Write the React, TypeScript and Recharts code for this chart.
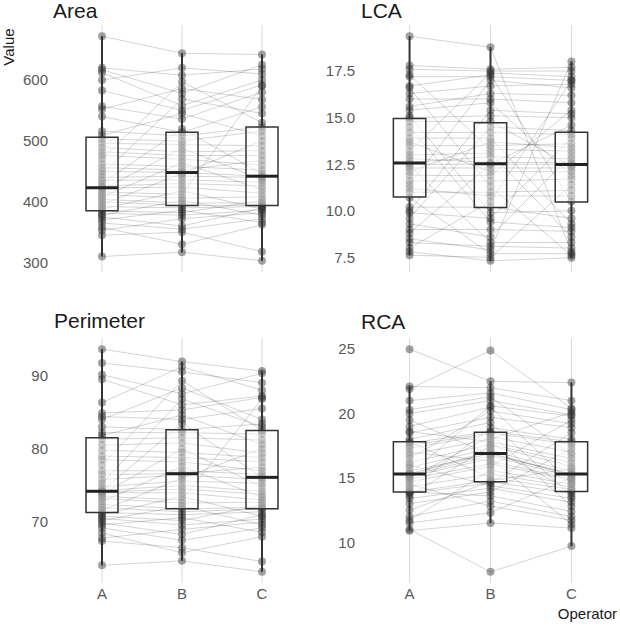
import React from 'react'
import { ComposedChart, Line, Scatter, XAxis, YAxis, ReferenceArea, ReferenceLine } from 'recharts'

const OPERATORS = ['A', 'B', 'C']

// Area, one value per subject and operator
const areaA = [310, 345, 353, 358, 365, 370, 375, 378, 381, 385, 388, 392, 396, 400, 404, 408, 412, 416, 420, 423, 426, 430, 435, 440, 445, 450, 456, 462, 470, 476, 482, 489, 496, 503, 509, 516, 540, 552, 557, 583, 600, 612, 617, 620, 672]
const areaB = [317, 350, 372, 330, 355, 386, 360, 402, 378, 382, 418, 390, 446, 394, 398, 464, 406, 412, 488, 424, 430, 520, 436, 442, 569, 448, 452, 458, 597, 470, 476, 482, 494, 500, 545, 508, 514, 586, 536, 550, 620, 558, 578, 608, 644]
const areaC = [303, 318, 382, 362, 372, 366, 390, 378, 386, 402, 388, 392, 500, 394, 398, 420, 408, 590, 436, 414, 426, 446, 432, 440, 545, 442, 468, 452, 530, 460, 476, 484, 492, 516, 508, 523, 556, 568, 580, 592, 610, 600, 625, 618, 642]
// [whisker low, q1, median, q3, whisker high] for A, B, C
const areaBox = [[310, 385, 423, 506, 672], [317, 394, 448, 514, 644], [303, 394, 442, 523, 642]]
const areaTicks = [300, 400, 500, 600]

// LCA
const lcaA = [7.62, 7.8, 8.0, 8.3, 8.5, 8.8, 9.0, 9.3, 9.6, 9.9, 10.0, 10.2, 10.7, 11.0, 11.2, 11.4, 11.6, 11.9, 12.1, 12.3, 12.4, 12.5, 12.6, 12.8, 13.0, 13.2, 13.5, 13.7, 13.9, 14.2, 14.5, 14.8, 15.0, 15.1, 15.4, 15.6, 16.0, 16.3, 16.6, 16.7, 17.2, 17.3, 17.6, 17.8, 19.37]
const lcaB = [7.5, 7.32, 10.5, 8.1, 7.9, 12.5, 9.0, 8.6, 14.5, 9.6, 15.4, 10.2, 7.7, 11.0, 10.8, 17.0, 11.6, 11.9, 13.7, 12.3, 8.3, 12.5, 12.9, 12.6, 13.1, 17.4, 13.5, 12.1, 13.9, 14.2, 9.4, 14.8, 15.1, 9.9, 15.8, 16.3, 16.0, 16.7, 11.3, 17.3, 17.2, 13.3, 17.5, 17.6, 18.78]
const lcaC = [11.4, 7.48, 17.0, 8.0, 18.02, 14.6, 8.9, 13.0, 14.3, 13.9, 15.2, 9.6, 7.7, 11.1, 10.8, 16.6, 11.7, 15.4, 13.4, 12.3, 8.3, 12.5, 12.8, 12.6, 8.6, 17.2, 13.6, 12.1, 9.3, 14.1, 9.1, 12.4, 15.0, 10.0, 11.9, 16.2, 15.8, 16.8, 7.6, 10.5, 17.0, 13.2, 17.5, 17.7, 7.8]
const lcaBox = [[7.62, 10.74, 12.57, 14.96, 19.37], [7.32, 10.18, 12.52, 14.73, 18.78], [7.48, 10.47, 12.48, 14.22, 18.02]]
const lcaTicks = [7.5, 10, 12.5, 15, 17.5]

// Perimeter
const perimA = [64.1, 67.4, 67.8, 68.5, 69.2, 69.6, 69.9, 70.2, 70.5, 70.8, 71.0, 71.3, 71.6, 72.0, 72.4, 72.8, 73.2, 73.5, 73.8, 74.0, 74.1, 74.2, 74.3, 74.8, 75.3, 75.8, 76.5, 77.0, 77.8, 78.5, 79.0, 79.8, 80.5, 81.3, 81.8, 82.2, 83.0, 84.0, 84.4, 84.9, 86.3, 89.5, 90.1, 91.7, 93.6]
const perimB = [64.7, 66.5, 69.0, 65.8, 67.5, 70.6, 68.3, 72.2, 69.6, 70.2, 73.5, 71.0, 76.0, 71.4, 71.8, 77.6, 72.6, 73.0, 80.0, 74.0, 74.5, 83.5, 75.0, 75.6, 86.8, 76.4, 76.6, 77.0, 89.3, 78.2, 78.8, 79.5, 80.8, 81.5, 84.6, 82.2, 82.6, 88.3, 84.0, 85.3, 91.2, 86.0, 87.5, 90.5, 91.9]
const perimC = [63.2, 64.6, 70.0, 68.0, 69.2, 68.6, 71.0, 69.6, 70.4, 72.3, 70.8, 71.4, 80.0, 71.8, 72.0, 73.4, 72.7, 86.8, 74.8, 73.0, 73.8, 76.1, 74.2, 75.3, 83.0, 75.8, 77.5, 76.5, 82.5, 77.0, 78.2, 78.8, 79.4, 81.2, 80.6, 82.0, 83.4, 84.0, 85.5, 87.0, 88.0, 87.2, 90.3, 89.0, 90.6]
const perimBox = [[64.1, 71.3, 74.2, 81.5, 93.6], [64.7, 71.8, 76.6, 82.6, 91.9], [63.2, 71.8, 76.1, 82.5, 90.6]]
const perimTicks = [70, 80, 90]

// RCA
const rcaA = [10.9, 11.0, 11.5, 11.7, 12.0, 12.5, 13.0, 13.4, 13.6, 13.8, 13.9, 13.9, 14.1, 14.3, 14.5, 14.7, 14.9, 15.0, 15.1, 15.2, 15.3, 15.3, 15.3, 15.5, 15.8, 16.0, 16.2, 16.5, 16.8, 17.0, 17.3, 17.5, 17.7, 17.8, 18.0, 18.5, 18.6, 19.0, 19.5, 20.0, 20.3, 21.0, 21.9, 22.1, 25.0]
const rcaB = [11.5, 7.7, 12.3, 15.6, 13.2, 14.7, 13.9, 14.2, 17.5, 14.6, 13.6, 14.8, 18.9, 15.3, 12.8, 15.9, 16.1, 18.2, 16.5, 16.7, 20.6, 16.9, 17.1, 16.9, 17.3, 14.4, 17.6, 20.2, 18.0, 16.3, 18.4, 18.5, 18.6, 15.0, 19.3, 19.7, 17.8, 20.5, 16.8, 21.0, 21.3, 21.6, 24.9, 22.0, 22.5]
const rcaC = [11.1, 9.7, 15.0, 14.5, 12.0, 13.8, 17.3, 13.1, 15.9, 18.5, 12.4, 15.7, 18.0, 14.3, 11.7, 19.5, 14.8, 17.0, 11.4, 15.1, 19.8, 15.2, 15.5, 15.3, 14.0, 13.4, 16.2, 19.2, 20.1, 14.9, 12.8, 17.6, 17.8, 14.1, 13.6, 18.9, 16.5, 14.6, 15.3, 19.9, 16.8, 20.3, 20.4, 21.0, 22.4]
const rcaBox = [[10.9, 13.9, 15.3, 17.8, 22.1], [11.5, 14.7, 16.9, 18.55, 22.5], [9.7, 13.95, 15.3, 17.8, 22.4]]
const rcaTicks = [10, 15, 20, 25]

const FONT = '"Liberation Sans", Arial, Helvetica, sans-serif'
const TICK = { fill: '#595959', fontSize: 15, fontFamily: FONT }

const Dot = (props: any) => <circle cx={props.cx} cy={props.cy} r={4} fill="#333" fillOpacity={0.45} />

interface PanelProps {
  a: number[]
  b: number[]
  c: number[]
  box: number[][]
  ticks: number[]
  decimals: number
  showX: boolean
  left: number
  top: number
  height: number
  yWidth: number
  marginTop: number
  marginBottom: number
}

function Panel({ a, b, c, box, ticks, decimals, showX, left, top, height, yWidth, marginTop, marginBottom }: PanelProps) {
  const all = [...a, ...b, ...c]
  const lo = Math.min(...all)
  const hi = Math.max(...all)
  const pad = (hi - lo) * 0.05
  const subjects = a.map((v, i) => [
    { x: 1, y: v },
    { x: 2, y: b[i] },
    { x: 3, y: c[i] },
  ])
  const points = subjects.flat()

  return (
    <div style={{ position: 'absolute', left, top }}>
      <ComposedChart width={310} height={height} margin={{ top: marginTop, right: 0, bottom: marginBottom, left: 0 }}>
        <XAxis
          type="number"
          dataKey="x"
          domain={[0.4, 3.6]}
          ticks={[1, 2, 3]}
          allowDataOverflow
          tickFormatter={(v) => OPERATORS[v - 1]}
          axisLine={false}
          tickLine={false}
          tick={showX ? TICK : false}
          tickSize={5}
          tickMargin={0}
          height={showX ? 20 : 0}
        />
        <YAxis
          type="number"
          dataKey="y"
          domain={[lo - pad, hi + pad]}
          allowDataOverflow
          ticks={ticks}
          tickFormatter={(v) => v.toFixed(decimals)}
          axisLine={false}
          tickLine={false}
          tick={TICK}
          tickSize={6}
          tickMargin={0}
          width={yWidth}
        />
        {OPERATORS.map((_, k) => (
          <ReferenceLine key={`g-${k}`} x={k + 1} stroke="#d9d9d9" strokeWidth={1} zIndex={-100} />
        ))}
        {subjects.map((s, i) => (
          <Line
            key={`s-${i}`}
            data={s}
            dataKey="y"
            stroke="#000"
            strokeOpacity={0.17}
            strokeWidth={1}
            dot={false}
            activeDot={false}
            isAnimationActive={false}
          />
        ))}
        <Scatter data={points} dataKey="y" shape={Dot} isAnimationActive={false} />
        {box.map((s, k) => [
          <ReferenceLine key={`wl-${k}`} segment={[{ x: k + 1, y: s[0] }, { x: k + 1, y: s[1] }]} stroke="#333" strokeWidth={2} zIndex={700} />,
          <ReferenceLine key={`wh-${k}`} segment={[{ x: k + 1, y: s[3] }, { x: k + 1, y: s[4] }]} stroke="#333" strokeWidth={2} zIndex={700} />,
          <ReferenceArea
            key={`bx-${k}`}
            x1={k + 1 - 0.2}
            x2={k + 1 + 0.2}
            y1={s[1]}
            y2={s[3]}
            fill="#fff"
            fillOpacity={0.45}
            stroke="#333"
            strokeWidth={1.5}
            strokeOpacity={1}
            zIndex={710}
          />,
          <ReferenceLine key={`md-${k}`} segment={[{ x: k + 1 - 0.2, y: s[2] }, { x: k + 1 + 0.2, y: s[2] }]} stroke="#222" strokeWidth={3} zIndex={720} />,
        ])}
      </ComposedChart>
    </div>
  )
}

export default function App() {
  return (
    <div style={{ position: 'absolute', left: 0, top: 0, width: 620, height: 627, background: '#fff', fontFamily: FONT }}>
      <Panel a={areaA} b={areaB} c={areaC} box={areaBox} ticks={areaTicks} decimals={0} showX={false}
        left={0} top={0} height={300} yWidth={54} marginTop={25} marginBottom={28} />
      <Panel a={lcaA} b={lcaB} c={lcaC} box={lcaBox} ticks={lcaTicks} decimals={1} showX={false}
        left={310} top={0} height={300} yWidth={51} marginTop={25} marginBottom={28} />
      <Panel a={perimA} b={perimB} c={perimC} box={perimBox} ticks={perimTicks} decimals={0} showX
        left={0} top={300} height={327} yWidth={54} marginTop={38} marginBottom={24} />
      <Panel a={rcaA} b={rcaB} c={rcaC} box={rcaBox} ticks={rcaTicks} decimals={0} showX
        left={310} top={300} height={327} yWidth={51} marginTop={38} marginBottom={24} />
      <svg width={620} height={627} style={{ position: 'absolute', left: 0, top: 0, pointerEvents: 'none' }}>
        <g fontFamily={FONT} fill="#1a1a1a">
          <text x={53} y={18} fontSize={21}>Area</text>
          <text x={361} y={18} fontSize={21}>LCA</text>
          <text x={54} y={328} fontSize={21}>Perimeter</text>
          <text x={361} y={329} fontSize={21}>RCA</text>
          <text x={14} y={47} fontSize={15} textAnchor="middle" transform="rotate(-90 14 47)">Value</text>
          <text x={617} y={619} fontSize={15} textAnchor="end">Operator</text>
        </g>
      </svg>
    </div>
  )
}
